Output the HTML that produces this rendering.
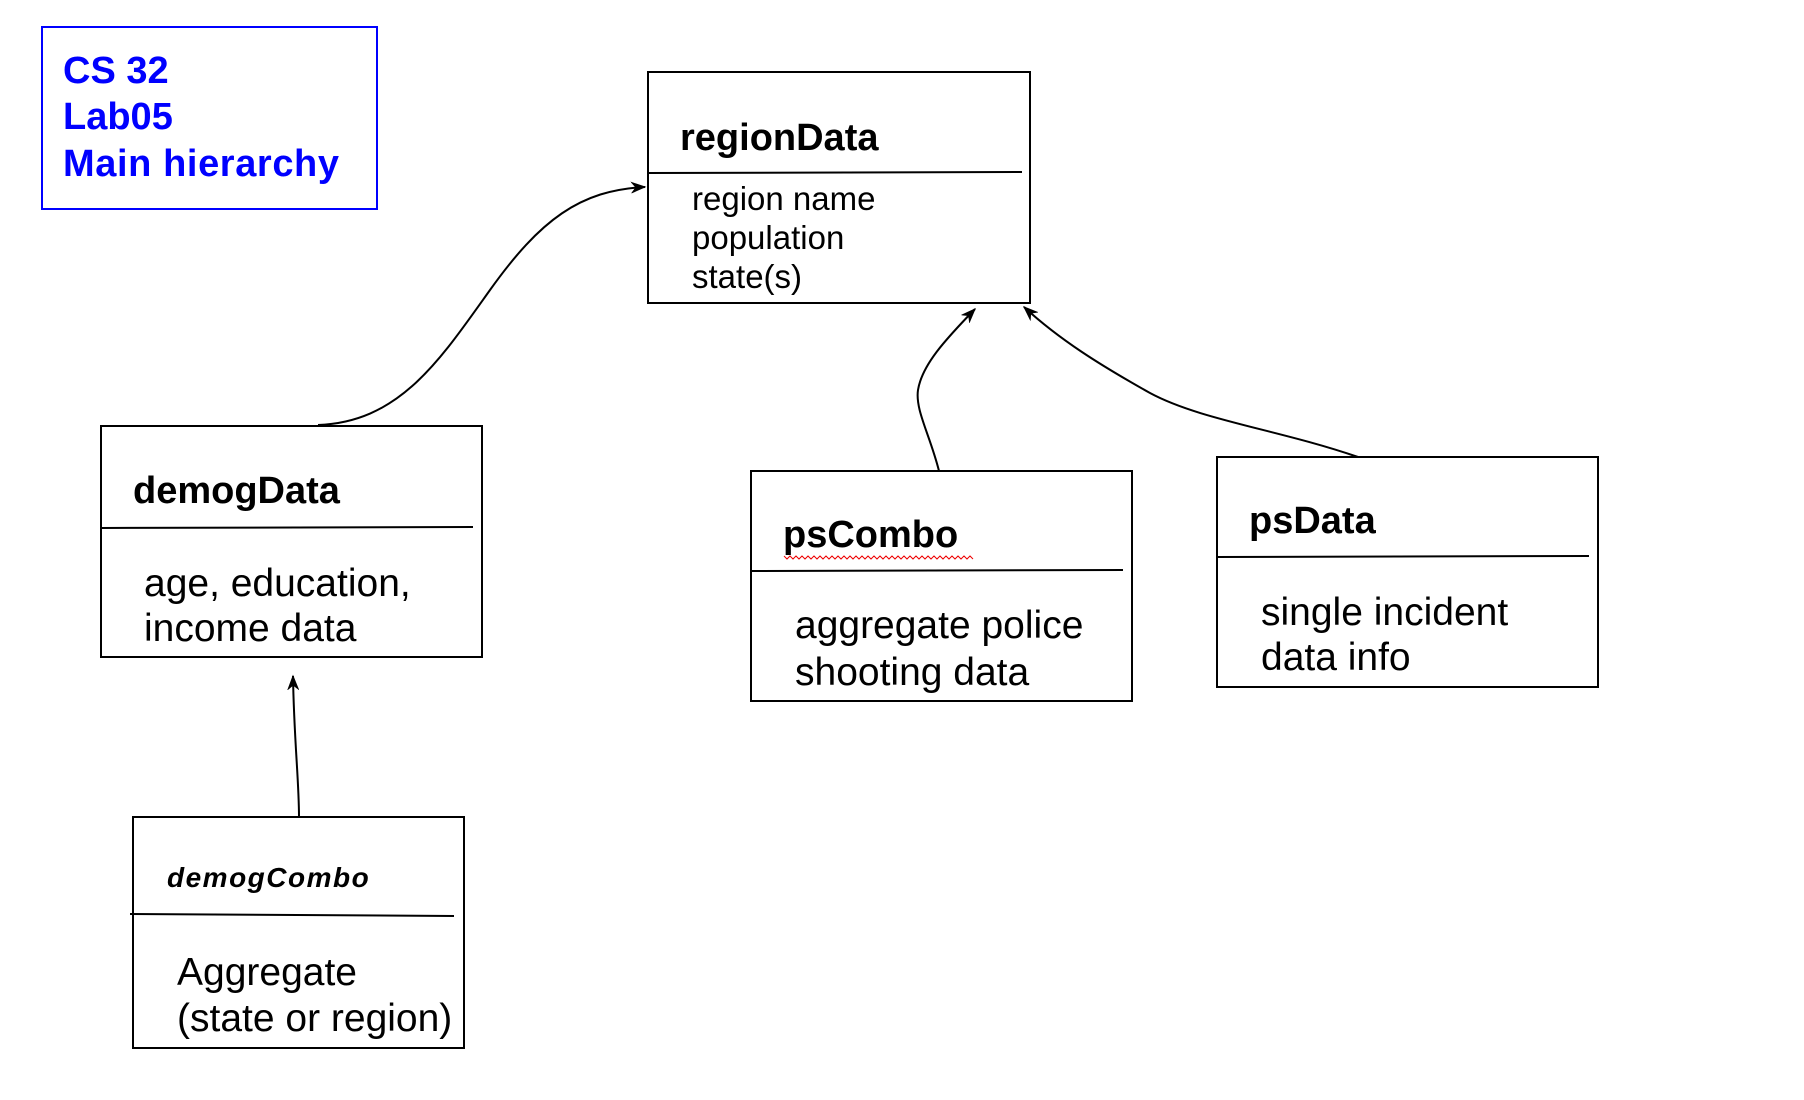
<!DOCTYPE html>
<html><head><meta charset="utf-8"><style>
html,body{margin:0;padding:0;background:#fff;}
svg{display:block;}
text{font-family:"Liberation Sans",Arial,sans-serif;}
</style></head><body>
<svg width="1804" height="1100" viewBox="0 0 1804 1100" xmlns="http://www.w3.org/2000/svg">
<defs>
<marker id="a" markerWidth="16" markerHeight="12" refX="14" refY="6" orient="auto" markerUnits="userSpaceOnUse">
<path d="M1,1 L14,6 L1,11 L5,6 Z" fill="#000" stroke="#000" stroke-width="1"/>
</marker>
</defs>
<rect x="42" y="27" width="335" height="182" fill="none" stroke="#0000ff" stroke-width="2"/>
<g fill="#0000ff" font-weight="bold" font-size="38">
<text x="63" y="83">CS 32</text>
<text x="63" y="129">Lab05</text>
<text x="63" y="176" textLength="276">Main hierarchy</text>
</g>
<g fill="none" stroke="#000" stroke-width="2">
<rect x="648" y="72" width="382" height="231"/>
<line x1="648" y1="173" x2="1022" y2="172"/>
<rect x="101" y="426" width="381" height="231"/>
<line x1="101" y1="528" x2="473" y2="527"/>
<rect x="751" y="471" width="381" height="230"/>
<line x1="751" y1="571" x2="1123" y2="570"/>
<rect x="1217" y="457" width="381" height="230"/>
<line x1="1217" y1="557" x2="1589" y2="556"/>
<rect x="133" y="817" width="331" height="231"/>
<line x1="130" y1="914" x2="454" y2="916"/>
</g>
<g fill="none" stroke="#000" stroke-width="2">
<path d="M318,425 C400,422 440,360 490,290 C540,220 580,190 645,187" marker-end="url(#a)"/>
<path d="M939,471 C930,435 915,410 918,390 C922,365 945,340 975,309" marker-end="url(#a)"/>
<path d="M1358,457 C1280,430 1200,420 1150,393 C1100,365 1060,340 1024,307" marker-end="url(#a)"/>
<path d="M299,817 C299,780 294,740 293,676" marker-end="url(#a)"/>
</g>
<g fill="#000">
<text x="680" y="150" font-size="38" font-weight="bold">regionData</text>
<text x="692" y="210" font-size="33">region name</text>
<text x="692" y="249" font-size="33">population</text>
<text x="692" y="288" font-size="33">state(s)</text>
<text x="133" y="503" font-size="38" font-weight="bold">demogData</text>
<text x="144" y="596" font-size="39">age, education,</text>
<text x="144" y="641" font-size="39">income data</text>
<text x="783" y="547" font-size="38" font-weight="bold">psCombo</text>
<text x="795" y="638" font-size="39">aggregate police</text>
<text x="795" y="685" font-size="39">shooting data</text>
<text x="1249" y="533" font-size="38" font-weight="bold">psData</text>
<text x="1261" y="625" font-size="39">single incident</text>
<text x="1261" y="670" font-size="39">data info</text>
<text x="167" y="887" font-size="28" font-weight="bold" font-style="italic" letter-spacing="1.5">demogCombo</text>
<text x="177" y="985" font-size="39">Aggregate</text>
<text x="177" y="1031" font-size="39">(state or region)</text>
</g>
<path d="M784,556 l3,3 l3,-3 l3,3 l3,-3 l3,3 l3,-3 l3,3 l3,-3 l3,3 l3,-3 l3,3 l3,-3 l3,3 l3,-3 l3,3 l3,-3 l3,3 l3,-3 l3,3 l3,-3 l3,3 l3,-3 l3,3 l3,-3 l3,3 l3,-3 l3,3 l3,-3 l3,3 l3,-3 l3,3 l3,-3 l3,3 l3,-3 l3,3 l3,-3 l3,3 l3,-3 l3,3 l3,-3 l3,3 l3,-3 l3,3 l3,-3 l3,3 l3,-3 l3,3 l3,-3 l3,3 l3,-3 l3,3 l3,-3 l3,3 l3,-3 l3,3 l3,-3 l3,3 l3,-3 l3,3 l3,-3 l3,3 l3,-3 l3,3" fill="none" stroke="#e00" stroke-width="1"/>
</svg>
</body></html>
